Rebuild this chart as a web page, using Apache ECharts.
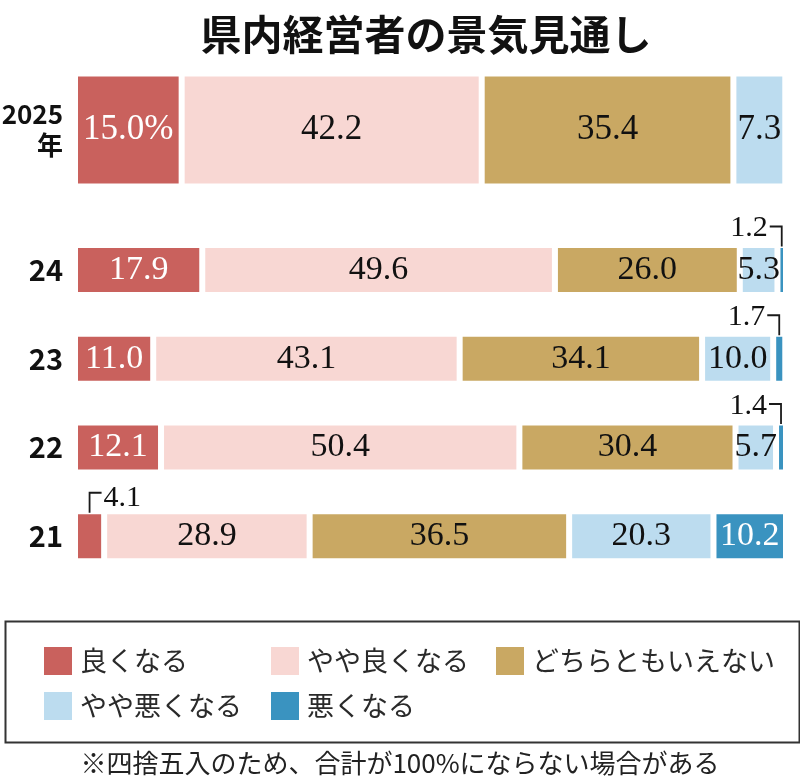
<!DOCTYPE html>
<html>
<head>
<meta charset="utf-8">
<script src="https://cdn.jsdelivr.net/npm/echarts@6/dist/echarts.min.js"></script>
<style>
html,body{margin:0;padding:0;background:#fff;}
#chart{width:800px;height:783px;}
</style>
</head>
<body>
<div id="chart"></div>
<script>
// Rows: 2025年 (top, large bar) and previous years 24, 23, 22, 21
const rowTop = ['2025年'];
const rowsPast = ['24', '23', '22', '21'];
const seriesNames = ['良くなる', 'やや良くなる', 'どちらともいえない', 'やや悪くなる', '悪くなる'];

// values in order [2025, 24, 23, 22, 21]
const yoku      = [15.0, 17.9, 11.0, 12.1, 4.1];
const yayaYoku  = [42.2, 49.6, 43.1, 50.4, 28.9];
const dochiramo = [35.4, 26.0, 34.1, 30.4, 36.5];
const yayaWaru  = [7.3, 5.3, 10.0, 5.7, 20.3];
const waru      = [0, 1.2, 1.7, 1.4, 10.2];

const footnote = '※四捨五入のため、合計が100%にならない場合がある';
const titleText = '県内経営者の景気見通し';

const colors = ['#c9615d', '#f8d7d3', '#c9a863', '#bcdcef', '#3a93c0'];
const labelColors = ['#ffffff', '#111111', '#111111', '#111111', '#ffffff'];
const seriesValues = [yoku, yayaYoku, dochiramo, yayaWaru, waru];

const SERIF = '"Liberation Serif", "DejaVu Serif", serif';
const SANS = '"Noto Sans CJK JP", "Noto Sans", sans-serif';
const SMALL = 4.5;
const BAR_TOP = 113;
const BAR_PAST = 50;

const chart = echarts.init(document.getElementById('chart'), null, {renderer: 'canvas'});

const series = [];
seriesValues.forEach((vals, k) => {
  // 2025 row (grid 0)
  series.push({
    name: seriesNames[k],
    type: 'bar',
    stack: 'top',
    xAxisIndex: 0, yAxisIndex: 0,
    barWidth: BAR_TOP,
    itemStyle: {color: colors[k], borderColor: '#ffffff', borderWidth: 3},
    label: {
      show: true, position: 'inside',
      color: labelColors[k], fontFamily: SERIF, fontSize: 35,
      formatter: p => k === 0 ? p.value.toFixed(1) + '%' : p.value.toFixed(1)
    },
    data: [vals[0]].map(v => ({value: v, label: {show: v >= SMALL}}))
  });
  // previous years (grid 1)
  series.push({
    name: seriesNames[k],
    type: 'bar',
    stack: 'past',
    xAxisIndex: 1, yAxisIndex: 1,
    barWidth: BAR_PAST,
    itemStyle: {color: colors[k], borderColor: '#ffffff', borderWidth: 3},
    label: {
      show: true, position: 'inside',
      color: labelColors[k], fontFamily: SERIF, fontSize: 34,
      formatter: p => p.value.toFixed(1)
    },
    data: vals.slice(1).map(v => ({value: v, label: {show: v >= SMALL}}))
  });
});

// annotations for small segments (leader brackets)
const annots = [];
for (let i = 1; i < 5; i++) {
  let cum = 0;
  for (let k = 0; k < seriesValues.length; k++) {
    const v = seriesValues[k][i];
    if (v > 0 && v < SMALL) {
      annots.push({start: cum, end: cum + v, cat: i - 1, text: v.toFixed(1), dir: k === seriesValues.length - 1 ? 'right' : 'left'});
    }
    cum += v;
  }
}

series.push({
  type: 'custom',
  xAxisIndex: 1, yAxisIndex: 1,
  silent: true,
  z: 10,
  encode: {x: [0, 1], y: 2},
  data: annots.map(a => [a.start, a.end, a.cat]),
  renderItem: function (params, api) {
    const a = annots[params.dataIndex];
    const c = api.coord([(api.value(0) + api.value(1)) / 2, api.value(2)]);
    const x = c[0];
    const top = c[1] - (BAR_PAST - 3) / 2;
    const ey = top - 20;
    if (a.dir === 'right') {
      return {type: 'group', children: [
        {type: 'polyline', shape: {points: [[x, top], [x, ey], [x - 12, ey]]}, style: {stroke: '#1a1a1a', lineWidth: 1.8, fill: null}},
        {type: 'text', style: {text: a.text, x: x - 14, y: ey + 2, align: 'right', verticalAlign: 'middle', fontFamily: SERIF, fontSize: 30, fill: '#111'}}
      ]};
    }
    return {type: 'group', children: [
      {type: 'polyline', shape: {points: [[x, top], [x, ey], [x + 12, ey]]}, style: {stroke: '#1a1a1a', lineWidth: 1.8, fill: null}},
      {type: 'text', style: {text: a.text, x: x + 14, y: ey + 5, align: 'left', verticalAlign: 'middle', fontFamily: SERIF, fontSize: 30, fill: '#111'}}
    ]};
  }
});

function legendAt(name, left, top) {
  return {
    data: [name], left: left, top: top,
    itemWidth: 28, itemHeight: 28, icon: 'rect',
    itemStyle: {borderWidth: 0},
    selectedMode: false,
    textStyle: {fontFamily: SANS, fontSize: 27, color: '#2a2a2a', padding: [0, 0, 0, 3]}
  };
}

const option = {
  animation: false,
  backgroundColor: '#ffffff',
  title: {
    text: titleText, left: 421, top: 9, textAlign: 'center',
    textStyle: {fontFamily: SANS, fontSize: 41, fontWeight: 'bold', color: '#111'}
  },
  legend: [
    legendAt(seriesNames[0], 39, 642),
    legendAt(seriesNames[1], 266, 642),
    legendAt(seriesNames[2], 491, 642),
    legendAt(seriesNames[3], 39, 687),
    legendAt(seriesNames[4], 266, 687)
  ],
  grid: [
    {left: 75, right: 14, top: 70, height: 120, outerBoundsMode: 'none', containLabel: false},
    {left: 75, right: 14, top: 225.6, height: 355, outerBoundsMode: 'none', containLabel: false}
  ],
  xAxis: [
    {gridIndex: 0, type: 'value', min: 0, max: 100, show: false},
    {gridIndex: 1, type: 'value', min: 0, max: 100, show: false}
  ],
  yAxis: [
    {gridIndex: 0, type: 'category', data: rowTop, inverse: true,
     axisLine: {show: false}, axisTick: {show: false},
     axisLabel: {margin: 12, fontFamily: SANS, fontSize: 26, fontWeight: 'bold', lineHeight: 31, color: '#111',
       formatter: v => v.replace('年', '\n年')}},
    {gridIndex: 1, type: 'category', data: rowsPast, inverse: true,
     axisLine: {show: false}, axisTick: {show: false},
     axisLabel: {margin: 12, fontFamily: SANS, fontSize: 29, fontWeight: 'bold', color: '#111'}}
  ],
  graphic: [
    {type: 'rect', left: 3, top: 619, shape: {width: 794, height: 121},
     style: {fill: null, stroke: '#333', lineWidth: 2}},
    {type: 'text', left: 'center', top: 750,
     style: {text: footnote, fontFamily: SANS, fontSize: 26, fill: '#222'}}
  ],
  series: series
};

chart.setOption(option);
</script>
</body>
</html>
